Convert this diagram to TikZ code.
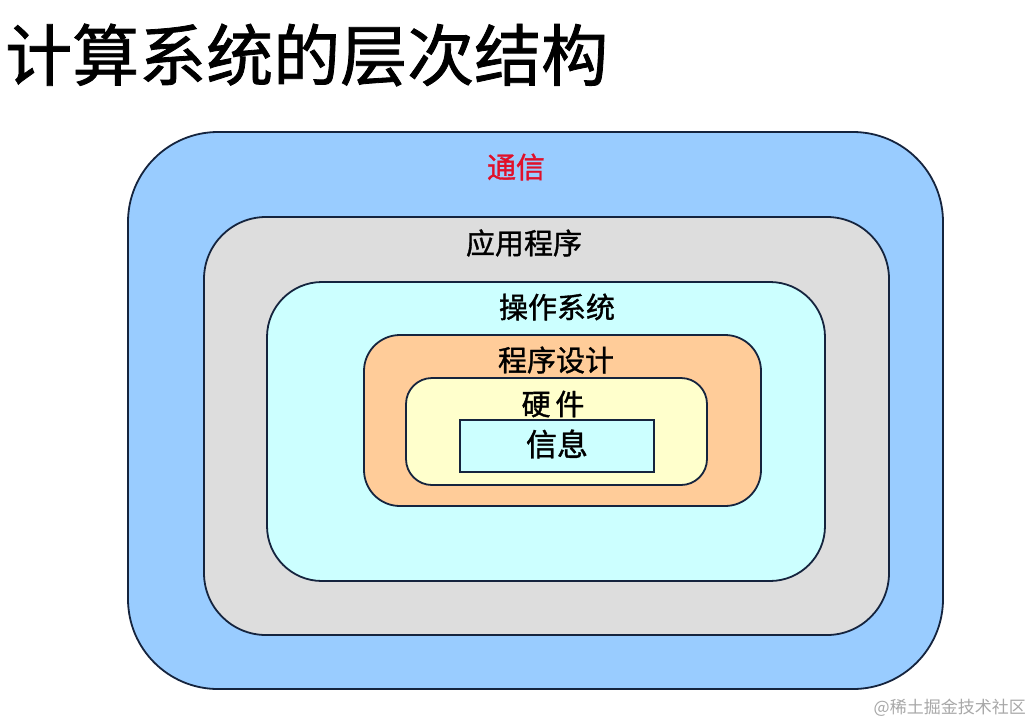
\documentclass[tikz,border=0pt]{standalone}
\usepackage{fontspec}
\newfontfamily\cjk{Noto Sans CJK SC}
\newfontfamily\cjkb[FakeBold=1.2]{Noto Sans CJK SC}
\definecolor{edge}{HTML}{15243E}
\definecolor{cblue}{HTML}{99CCFF}
\definecolor{cgray}{HTML}{DDDDDD}
\definecolor{ccyan}{HTML}{CCFFFF}
\definecolor{corange}{HTML}{FFCC99}
\definecolor{cyellow}{HTML}{FFFFCC}
\definecolor{cred}{HTML}{E0102A}
\definecolor{wm}{HTML}{A8A8A8}
\begin{document}
\begin{tikzpicture}[x=1pt,y=-1pt,
  layer/.style={draw=edge, line width=1.8pt, rounded corners=#1, inner sep=0pt},
  lbl/.style={inner sep=0pt, font=\cjkb\fontsize{29pt}{29pt}\selectfont, text=black}]
\useasboundingbox (0,0) rectangle (1036,724);
\fill[white] (0,0) rectangle (1036,724);
\node[inner sep=0pt, anchor=west, font=\cjkb\fontsize{67pt}{67pt}\selectfont] (title) at (5,55) {计算系统的层次结构};
\node[layer=90pt, fill=cblue, minimum width=815pt, minimum height=557pt] (comm) at (535.5,410.5) {};
\node[layer=62pt, fill=cgray, minimum width=685pt, minimum height=418pt] (app) at (546.5,426) {};
\node[layer=55pt, fill=ccyan, minimum width=558pt, minimum height=299pt] (os) at (546,431.5) {};
\node[layer=36pt, fill=corange, minimum width=397pt, minimum height=171pt] (prog) at (562.5,420.5) {};
\node[layer=26pt, fill=cyellow, minimum width=301pt, minimum height=107pt] (hw) at (556.5,431.5) {};
\node[draw=edge, line width=1.8pt, fill=ccyan, minimum width=194pt, minimum height=52pt, inner sep=0pt] (info) at (557,446) {};
\node[lbl, text=cred] (tcomm) at (516,167) {通信};
\node[lbl] (tapp) at (524,243) {应用程序};
\node[lbl] (tos) at (557,307) {操作系统};
\node[lbl] (tprog) at (556,360) {程序设计};
\node[lbl] (thw) at (553,404) {硬\,件};
\node[lbl, font=\cjkb\fontsize{31pt}{31pt}\selectfont] (tinfo) at (557,444) {信息};
\node[inner sep=0pt, anchor=east, text=wm, font=\cjk\fontsize{17pt}{17pt}\selectfont] (wmark) at (1026,708) {@稀土掘金技术社区};
\end{tikzpicture}
\end{document}
